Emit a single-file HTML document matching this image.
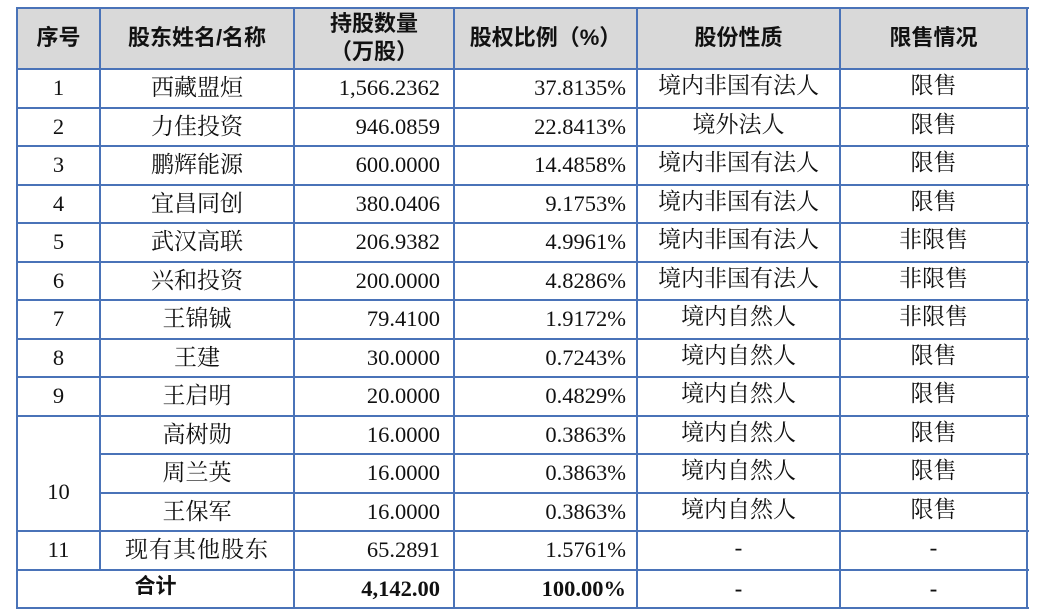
<!DOCTYPE html>
<html><head><meta charset="utf-8"><style>
body{margin:0;width:1037px;height:615px;background:#fff;position:relative;overflow:hidden;font-family:"Liberation Serif","Noto Serif CJK SC",serif;color:#111}
.h{position:absolute;background:#4a73b8;height:2px}
.v{position:absolute;background:#4a73b8;width:2px}
.t{position:absolute;font-size:22.5px;line-height:24px;white-space:nowrap}
.c{text-align:center}
.r{text-align:right}
.hd{font-family:"Liberation Sans","Noto Sans CJK SC",sans-serif;font-weight:bold;font-size:22px}
.b{font-weight:bold}
.k{font-size:23px}
</style></head><body>
<div style="position:absolute;left:17px;top:8px;width:1011px;height:61px;background:#d9d9d9"></div>
<div id="g"></div>
<script>
const X=[17,100,294,454,637,840,1027];
const top0=69,rh=38.5;
let s='';
s+=`<div class="h" style="left:17px;top:7px;width:1012px"></div>`;
s+=`<div class="h" style="left:17px;top:68px;width:1012px"></div>`;
for(let k=1;k<=14;k++){
 const y=Math.round(top0+rh*k)-1;
 let x0=17;
 if(k>=10&&k<=11) x0=100;
 s+=`<div class="h" style="left:${x0}px;top:${y}px;width:${1029-x0}px"></div>`;
}
const bot=Math.round(top0+rh*14)+1;
X.forEach((x,i)=>{
 if(i==1){
  s+=`<div class="v" style="left:${x-1}px;top:7px;height:${Math.round(top0+rh*13)-7}px"></div>`;
 } else s+=`<div class="v" style="left:${x-1}px;top:7px;height:${bot-7}px"></div>`;
});
const hdr=[["序号",17,100],["股东姓名/名称",100,294],["股权比例（%）",454,637],["股份性质",637,840],["限售情况",840,1027]];
hdr.forEach(h=>s+=`<div class="t c hd" style="left:${h[1]}px;width:${h[2]-h[1]}px;top:26px">${h[0]}</div>`);
s+=`<div class="t c hd" style="left:294px;width:160px;top:10px;line-height:28px">持股数量<br>（万股）</div>`;
const rows=[
["1","西藏盟烜","1,566.2362","37.8135%","境内非国有法人","限售"],
["2","力佳投资","946.0859","22.8413%","境外法人","限售"],
["3","鹏辉能源","600.0000","14.4858%","境内非国有法人","限售"],
["4","宜昌同创","380.0406","9.1753%","境内非国有法人","限售"],
["5","武汉高联","206.9382","4.9961%","境内非国有法人","非限售"],
["6","兴和投资","200.0000","4.8286%","境内非国有法人","非限售"],
["7","王锦铖","79.4100","1.9172%","境内自然人","非限售"],
["8","王建","30.0000","0.7243%","境内自然人","限售"],
["9","王启明","20.0000","0.4829%","境内自然人","限售"],
["","高树勋","16.0000","0.3863%","境内自然人","限售"],
["","周兰英","16.0000","0.3863%","境内自然人","限售"],
["","王保军","16.0000","0.3863%","境内自然人","限售"],
["11","现有其他股东","65.2891","1.5761%","-","-"]];
rows.forEach((r,i)=>{
 const y=Math.round(top0+rh*i+7);
 if(r[0]) s+=`<div class="t c" style="left:17px;width:83px;top:${y}px">${r[0]}</div>`;
 s+=`<div class="t c k" style="left:100px;width:194px;top:${y}px;letter-spacing:${i==12?1:0}px">${r[1]}</div>`;
 s+=`<div class="t r" style="left:294px;width:146px;top:${y}px">${r[2]}</div>`;
 s+=`<div class="t r" style="left:454px;width:172px;top:${y}px">${r[3]}</div>`;
 s+=`<div class="t c k" style="left:637px;width:203px;top:${y-2}px">${r[4]}</div>`;
 s+=`<div class="t c k" style="left:840px;width:187px;top:${y-2}px">${r[5]}</div>`;
});
s+=`<div class="t c" style="left:17px;width:83px;top:${Math.round(top0+rh*10.5+7)}px">10</div>`;
const yt=Math.round(top0+rh*13+7);
s+=`<div class="t c hd" style="left:17px;width:277px;top:${yt-2}px;font-size:21px">合计</div>`;
s+=`<div class="t r b" style="left:294px;width:146px;top:${yt}px">4,142.00</div>`;
s+=`<div class="t r b" style="left:454px;width:172px;top:${yt}px">100.00%</div>`;
s+=`<div class="t c b" style="left:637px;width:203px;top:${yt}px">-</div>`;
s+=`<div class="t c b" style="left:840px;width:187px;top:${yt}px">-</div>`;
document.getElementById('g').innerHTML=s;
</script>
</body></html>
